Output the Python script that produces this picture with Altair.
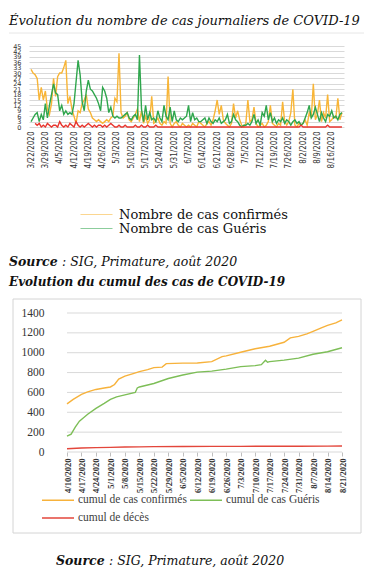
import altair as alt
import pandas as pd

# ---------------- Daily chart (3/22/2020 -> 8/21/2020) ----------------
confirmes_jour = [
    32, 30, 29, 27, 15, 22, 15,
    20, 10, 7, 13, 27, 17, 28,
    30, 30, 33, 37, 13, 17, 10,
    6, 2, 9, 8, 13, 15, 18,
    10, 8, 5, 4, 3, 4, 3,
    2, 3, 4, 3, 5, 6, 16,
    14, 41, 8, 5, 6, 8, 4,
    3, 5, 7, 10, 3, 9, 2,
    6, 2, 4, 17, 2, 3, 5,
    2, 1, 3, 2, 28, 2, 0,
    2, 3, 1, 0, 2, 1, 0,
    1, 0, 2, 1, 0, 3, 2,
    1, 0, 2, 3, 1, 4, 9,
    15, 7, 12, 4, 2, 1, 0,
    2, 13, 5, 9, 4, 1, 0,
    2, 15, 3, 4, 11, 2, 0,
    1, 2, 0, 1, 3, 12, 2,
    1, 0, 2, 1, 14, 3, 1,
    3, 8, 21, 1, 0, 2, 1,
    2, 4, 1, 8, 5, 24, 4,
    7, 15, 3, 8, 5, 18, 3,
    4, 6, 5, 16, 4, 8,
]
gueris_jour = [
    3, 5, 7, 8, 3, 7, 4,
    13, 5, 12, 18, 24, 19, 18,
    9, 12, 7, 9, 7, 8, 7,
    13, 25, 37, 29, 14, 9, 20,
    26, 21, 20, 18, 16, 13, 9,
    22, 20, 16, 8, 11, 6, 5,
    6, 5, 5, 6, 7, 8, 5,
    4, 6, 7, 4, 40, 10, 3,
    12, 4, 8, 4, 5, 3, 9,
    5, 3, 12, 6, 4, 11, 3,
    9, 4, 3, 5, 4, 5, 6,
    12, 3, 8, 4, 5, 3, 3,
    4, 5, 2, 5, 3, 2, 4,
    3, 5, 2, 3, 4, 7, 2,
    3, 7, 4, 3, 1, 0, 1,
    1, 2, 1, 3, 7, 2, 4,
    1, 8, 6, 12, 4, 8, 3,
    5, 2, 4, 3, 5, 2, 4,
    3, 1, 3, 4, 2, 3, 1,
    2, 5, 8, 12, 5, 7, 11,
    7, 3, 8, 5, 3, 7, 6,
    9, 5, 6, 4, 7, 8,
]
deces_jour = [
    None, None, 2, 1, 2, 0, 1,
    0, 2, 1, 0, 1, 1, 0,
    3, 1, 0, 1, 0, 2, 1,
    0, 3, 1, 0, 1, 0, 1,
    2, 1, 0, 1, 0, 1, 1,
    0, 1, 0, 1, 2, 1, 0,
    0, 1, 0, 0, 1, 0, 0,
    0, 0, 1, 0, 0, 1, 0,
    0, 1, 0, 0, 0, 1, 0,
    0, 0, 0, 0, 0, 0, 0,
    0, 0, 0, 0, 0, 0, 0,
    0, 0, 0, 0, 0, 0, 0,
    0, 0, 0, 0, 0, 0, 0,
    0, 0, 0, 0, 0, 0, 0,
    0, 0, 0, 0, 0, 0, 0,
    0, 0, 0, 0, 0, 0, 0,
    0, 0, 0, 0, 0, 0, 0,
    0, 0, 0, 0, 0, 0, 0,
    0, 0, 0, 0, 0, 0, 1,
    0, 0, 0, 0, 0, 0, 0,
    0, 0, 0, 0, 0, 1, 0,
    0, 0, 0, 0, 0, 0,
]

# ---------------- Cumulative chart (4/10/2020 -> 8/21/2020) ----------------
cum_conf_dates = ["2020-04-10", "2020-04-13", "2020-04-17", "2020-04-20", "2020-04-24",
                  "2020-04-28", "2020-05-01", "2020-05-03", "2020-05-05", "2020-05-08",
                  "2020-05-12", "2020-05-15", "2020-05-19", "2020-05-22", "2020-05-26",
                  "2020-05-28", "2020-06-05", "2020-06-12", "2020-06-19", "2020-06-24",
                  "2020-06-26", "2020-07-03", "2020-07-10", "2020-07-17", "2020-07-24",
                  "2020-07-27", "2020-07-31", "2020-08-04", "2020-08-07", "2020-08-11",
                  "2020-08-14", "2020-08-18", "2020-08-21"]
cum_conf_vals = [485, 530, 580, 605, 630, 645, 655, 680, 735, 765, 790, 810, 830, 850, 855,
                 890, 895, 897, 910, 960, 968, 1005, 1040, 1065, 1105, 1150, 1165, 1190,
                 1215, 1250, 1275, 1300, 1330]
cum_gue_dates = ["2020-04-10", "2020-04-12", "2020-04-14", "2020-04-16", "2020-04-18",
                 "2020-04-20", "2020-04-24", "2020-04-28", "2020-05-01", "2020-05-04",
                 "2020-05-08", "2020-05-13", "2020-05-14", "2020-05-15", "2020-05-22",
                 "2020-05-29", "2020-06-05", "2020-06-12", "2020-06-19", "2020-06-26",
                 "2020-07-03", "2020-07-10", "2020-07-13", "2020-07-15", "2020-07-16",
                 "2020-07-17", "2020-07-24", "2020-07-31", "2020-08-07", "2020-08-14",
                 "2020-08-21"]
cum_gue_vals = [160, 180, 250, 310, 345, 380, 440, 490, 530, 555, 575, 600, 645, 655, 690,
                740, 775, 805, 815, 835, 860, 870, 880, 925, 905, 910, 925, 945, 985, 1010,
                1050]
cum_dec_dates = ["2020-04-10", "2020-04-17", "2020-04-24", "2020-05-01", "2020-05-08",
                 "2020-05-15", "2020-05-22", "2020-06-05", "2020-06-19", "2020-07-03",
                 "2020-07-31", "2020-08-14", "2020-08-21"]
cum_dec_vals = [33, 40, 44, 47, 50, 52, 54, 56, 57, 57, 58, 59, 60]

S_CONF = "Nombre de cas confirmés"
S_GUE = "Nombre de cas Guéris"
S_DEC = "Nombre de décès"
C_CONF = "cumul de cas confirmés"
C_GUE = "cumul de cas Guéris"
C_DEC = "cumul de décès"

TITLE_1 = "Évolution du nombre de cas journaliers de COVID-19"
TITLE_2 = "Evolution du cumul des cas de COVID-19"
SRC_A = "Source"
SRC_B = " : SIG, Primature, août 2020"

jours = pd.date_range("2020-03-22", periods=len(confirmes_jour)).strftime("%Y-%m-%d").tolist()
ticks_jour = jours[::7]
jours_cum = pd.date_range("2020-04-10", "2020-08-21").strftime("%Y-%m-%d").tolist()
ticks_cum = jours_cum[::7]
ticks_y_cum = list(range(0, 1401, 200))

daily = pd.DataFrame({
    "date": jours * 3,
    "serie": [S_CONF] * len(jours) + [S_GUE] * len(jours) + [S_DEC] * len(jours),
    "valeur": confirmes_jour + gueris_jour + deces_jour,
})
cumul = pd.DataFrame({
    "date": cum_conf_dates + cum_gue_dates + cum_dec_dates,
    "serie": [C_CONF] * len(cum_conf_dates) + [C_GUE] * len(cum_gue_dates) + [C_DEC] * len(cum_dec_dates),
    "valeur": cum_conf_vals + cum_gue_vals + cum_dec_vals,
})

LBL = "toNumber(slice(datum.value,5,7)) + '/' + toNumber(slice(datum.value,8,10)) + '/' + slice(datum.value,0,4)"
NARROW = "Liberation Sans Narrow, DejaVu Sans Condensed, Arial Narrow, sans-serif"
SRC_FONT = 12.5
LINE_SYM = "M-3.2,0H3.2"

# ---------- chart A ----------
xA = alt.X("date:O", sort=None,
           scale=alt.Scale(type="point", domain=jours, padding=2),
           axis=alt.Axis(values=ticks_jour, labelExpr=LBL, labelAngle=270, labelFontSize=8,
                         labelFont=NARROW, labelColor="#333333", ticks=False, domain=False,
                         grid=False, title=None, labelPadding=4))
yA = alt.Y("valeur:Q", scale=alt.Scale(domain=[0, 45], nice=False),
           axis=alt.Axis(values=list(range(0, 46, 3)), title=None, labelFontSize=6.5,
                         labelFont="DejaVu Sans", labelColor="#333333", grid=True,
                         gridColor="#d9d9d9", domain=False, ticks=False, labelPadding=8,
                         labelOverlap=False))
colA = alt.Color("serie:N",
                 scale=alt.Scale(domain=[S_CONF, S_GUE, S_DEC], range=["#F8B537", "#2FA64D", "#E8352E"]),
                 legend=alt.Legend(values=[S_CONF, S_GUE], orient="none", legendX=61, legendY=162,
                                   title=None, symbolType=LINE_SYM, symbolSize=100,
                                   symbolStrokeWidth=1.2, symbolOpacity=0.55,
                                   labelFont="DejaVu Serif", labelFontSize=13, labelColor="#111111",
                                   labelLimit=400, rowPadding=0, labelOffset=16))

base_A = alt.Chart(daily)
layers_A = [base_A.transform_filter(alt.datum.serie == s).mark_line(strokeWidth=1.4).encode(x=xA, y=yA, color=colA)
            for s in [S_CONF, S_GUE, S_DEC]]
frameA = alt.Chart(pd.DataFrame({"a": [0]})).mark_rule(color="#e6e6e6", strokeWidth=1).encode(
    x=alt.value(-20), x2=alt.value(335), y=alt.value(-13))
srcA1 = alt.Chart(pd.DataFrame({"t": [SRC_A]})).mark_text(
    align="left", baseline="alphabetic", font="DejaVu Serif", fontStyle="italic",
    fontWeight="bold", fontSize=SRC_FONT, color="#111111").encode(text="t:N", x=alt.value(-20), y=alt.value(220))
srcA2 = alt.Chart(pd.DataFrame({"t": [SRC_B]})).mark_text(
    align="left", baseline="alphabetic", font="DejaVu Serif", fontStyle="italic",
    fontSize=SRC_FONT, color="#111111").encode(text="t:N", x=alt.value(33), y=alt.value(220))

chartA = alt.layer(frameA, *layers_A, srcA1, srcA2).properties(
    width=315, height=81,
    title=alt.TitleParams(TITLE_1, anchor="start", frame="group", font="DejaVu Serif",
                          fontStyle="italic", fontWeight="normal", fontSize=13, color="#111111",
                          dx=-20, offset=5),
)

# ---------- chart B (plot origin shared with chart A; data range starts 38px in) ----------
xB = alt.X("date:O", sort=None,
           scale=alt.Scale(type="point", domain=jours_cum, padding=0, range=[38, 313]),
           axis=alt.Axis(values=ticks_cum, labelExpr=LBL, labelAngle=270, labelFontSize=8.5,
                         labelFont="Liberation Serif", labelFontWeight="bold", labelColor="#333333",
                         ticks=True, tickSize=4, tickColor="#bfbfbf", domain=False,
                         grid=False, title=None, labelPadding=2))
axisYB = alt.Axis(values=ticks_y_cum, format="d", title=None, labelFontSize=11.5,
                  labelFont="Liberation Serif", labelColor="#333333", grid=False,
                  domain=False, ticks=False, offset=-38, labelPadding=23)
scaleYB = alt.Scale(domain=[0, 1400], nice=False)
yB = alt.Y("valeur:Q", scale=scaleYB, axis=axisYB)
colB = alt.Color("serie:N",
                 scale=alt.Scale(domain=[C_CONF, C_GUE, C_DEC], range=["#F7B23B", "#7DBE57", "#E3463B"]),
                 legend=alt.Legend(orient="none", legendX=23, legendY=181, columns=2,
                                   direction="horizontal", title=None,
                                   symbolType=LINE_SYM, symbolSize=100, symbolStrokeWidth=1.5,
                                   labelFont="Liberation Serif", labelFontSize=11.5,
                                   labelColor="#404040", labelLimit=400, columnPadding=0,
                                   rowPadding=6, labelOffset=14))

grid_B = alt.Chart(pd.DataFrame({"valeur": ticks_y_cum})).mark_rule(color="#d9d9d9", strokeWidth=1).encode(
    y=alt.Y("valeur:Q", scale=scaleYB, axis=axisYB),
    x=alt.value(38), x2=alt.value(313))
base_B = alt.Chart(cumul)
layers_B = [base_B.transform_filter(alt.datum.serie == s).mark_line(strokeWidth=1.4).encode(x=xB, y=yB, color=colB)
            for s in [C_CONF, C_GUE, C_DEC]]
boxB = alt.Chart(pd.DataFrame({"a": [0]})).mark_rect(fillOpacity=0, stroke="#d4d4d4", strokeWidth=1).encode(
    x=alt.value(-16), x2=alt.value(332), y=alt.value(-14), y2=alt.value(220))
srcB1 = alt.Chart(pd.DataFrame({"t": [SRC_A]})).mark_text(
    align="left", baseline="alphabetic", font="DejaVu Serif", fontStyle="italic",
    fontWeight="bold", fontSize=SRC_FONT, color="#111111").encode(text="t:N", x=alt.value(27), y=alt.value(252))
srcB2 = alt.Chart(pd.DataFrame({"t": [SRC_B]})).mark_text(
    align="left", baseline="alphabetic", font="DejaVu Serif", fontStyle="italic",
    fontSize=SRC_FONT, color="#111111").encode(text="t:N", x=alt.value(80), y=alt.value(252))

chartB = alt.layer(boxB, grid_B, *layers_B, srcB1, srcB2).properties(
    width=313, height=139,
    title=alt.TitleParams(TITLE_2, anchor="start", frame="group", font="DejaVu Serif",
                          fontStyle="italic", fontWeight="bold", fontSize=12, color="#111111",
                          dx=-20, offset=10),
)

chart = alt.vconcat(chartA, chartB, spacing=6).properties(
    padding={"left": 0, "top": 6, "right": 0, "bottom": 0}
).configure_view(stroke=None).resolve_scale(color="independent")

chart.save("out.html", embed_options={"renderer": "svg", "actions": False})
